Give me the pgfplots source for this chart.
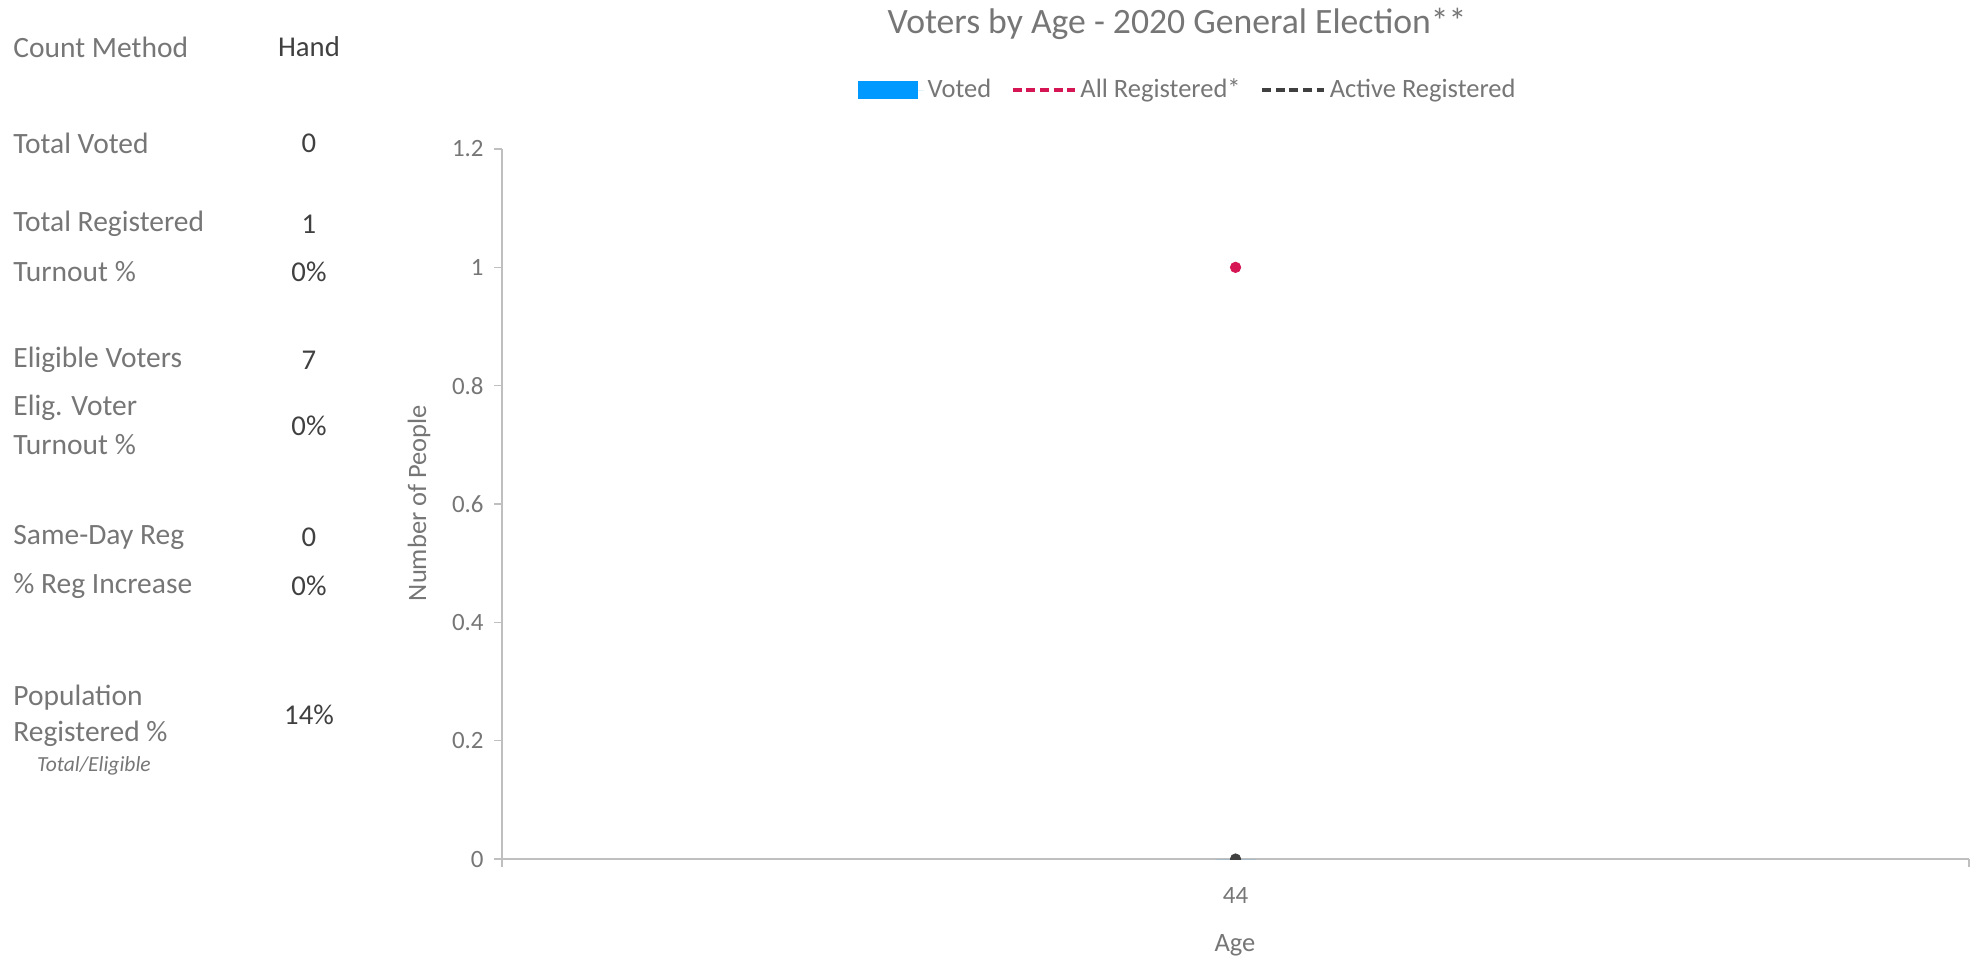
\documentclass[border=0pt]{standalone}
\usepackage{pgfplots}
\pgfplotsset{compat=1.18}
\usepackage{fontspec}
\setmainfont{Carlito}
\definecolor{lbl}{RGB}{118,118,118}
\definecolor{val}{RGB}{64,64,64}
\definecolor{axl}{RGB}{191,191,191}
\definecolor{vblue}{RGB}{0,153,255}
\definecolor{vred}{RGB}{214,22,84}
\definecolor{vblk}{RGB}{64,64,64}
\newcommand{\lf}{\fontsize{14.8}{17}\selectfont}
\newcommand{\vf}{\fontsize{14.4}{17}\selectfont}
\begin{document}
\begin{tikzpicture}
\begin{scope}[x=0.5bp,y=-0.5bp]
\path (0,0) rectangle (1983,958);
% left panel
\begin{scope}[every node/.style={inner sep=0pt,text=lbl,font=\lf}]
\node[anchor=west] at (13,47) {Count Method};
\node[anchor=west] at (13,143) {Total Voted};
\node[anchor=west] at (13,224) {Total Registered};
\node[anchor=west] at (13,272) {Turnout \%};
\node[anchor=west] at (13,360) {Eligible Voters};
\node[anchor=west] at (13,408) {Elig. Voter};
\node[anchor=west] at (13,445) {Turnout \%};
\node[anchor=west] at (13,537) {Same-Day Reg};
\node[anchor=west] at (13,586) {\% Reg Increase};
\node[anchor=west] at (13,698) {Population};
\node[anchor=west] at (13,734) {Registered \%};
\node[font=\fontsize{10.8}{13}\selectfont\itshape] at (94,766) {Total/Eligible};
\end{scope}
\begin{scope}[every node/.style={inner sep=0pt,text=val,font=\vf}]
\node at (309,47) {Hand};
\node at (309,143) {0};
\node at (309,224) {1};
\node at (309,272) {0\%};
\node at (309,360) {7};
\node at (309,426) {0\%};
\node at (309,537) {0};
\node at (309,586) {0\%};
\node at (309,715) {14\%};
\end{scope}
\node[inner sep=0pt,text=lbl,font=\fontsize{17.9}{21}\selectfont] at (1177,24) {Voters by Age - 2020 General Election**};
\node[inner sep=0pt,text=lbl,font=\fontsize{13.3}{15}\selectfont] at (1235,945) {Age};
\node[inner sep=0pt,text=lbl,font=\fontsize{13.3}{15}\selectfont,rotate=90] at (419,503) {Number of People};
\end{scope}
\begin{axis}[
  at={(251bp,-429.5bp)}, anchor=south west,
  scale only axis, width=733.5bp, height=355bp,
  xmin=-0.5, xmax=0.5, ymin=0, ymax=1.2,
  axis lines*=left,
  axis line style={axl, line width=0.7bp},
  tick align=outside,
  major tick length=4bp,
  tick style={axl, line width=0.7bp},
  xtick={-0.5,0.5}, xticklabels={,},
  extra x ticks={0}, extra x tick labels={44},
  extra x tick style={major tick length=0pt},
  ytick={0,0.2,0.4,0.6,0.8,1,1.2},
  yticklabel style={/pgf/number format/fixed, /pgf/number format/precision=1},
  /pgf/number format/assume math mode=true,
  ticklabel style={text=lbl, font=\fontsize{12.5}{15}\selectfont},
  xticklabel style={yshift=-10.5bp},
  yticklabel style={inner sep=0pt, xshift=-5bp},
  clip marker paths=true,
  legend columns=3,
  legend style={at={(0.468,1.083)}, anchor=center, draw=none, fill=none,
    font=\fontsize{13.3}{15}\selectfont, text=lbl,
    /tikz/every even column/.append style={column sep=8bp}},
  legend cell align=left,
]
\addplot[ybar, fill=vblue, draw=none, bar width=20bp,
  legend image code/.code={\path (0bp,0bp) -- (33bp,0bp);\fill[vblue] (0bp,-4.5bp) rectangle (30bp,4.5bp);}]
  coordinates {(0,0)};
\addlegendentry{Voted}
\addplot[vred, dashed, mark=*, mark size=2.6bp, mark options={solid},
  legend image code/.code={\draw[vred, line width=1.6bp, dash pattern=on 4.5bp off 2.3bp] (0bp,0bp) -- (31bp,0bp);}]
  coordinates {(0,1)};
\addlegendentry{All Registered*}
\addplot[vblk, dashed, mark=*, mark size=2.6bp, mark options={solid},
  legend image code/.code={\draw[vblk, line width=1.6bp, dash pattern=on 4.5bp off 2.3bp] (0bp,0bp) -- (31bp,0bp);}]
  coordinates {(0,0)};
\addlegendentry{Active Registered}
\end{axis}
\end{tikzpicture}
\end{document}
